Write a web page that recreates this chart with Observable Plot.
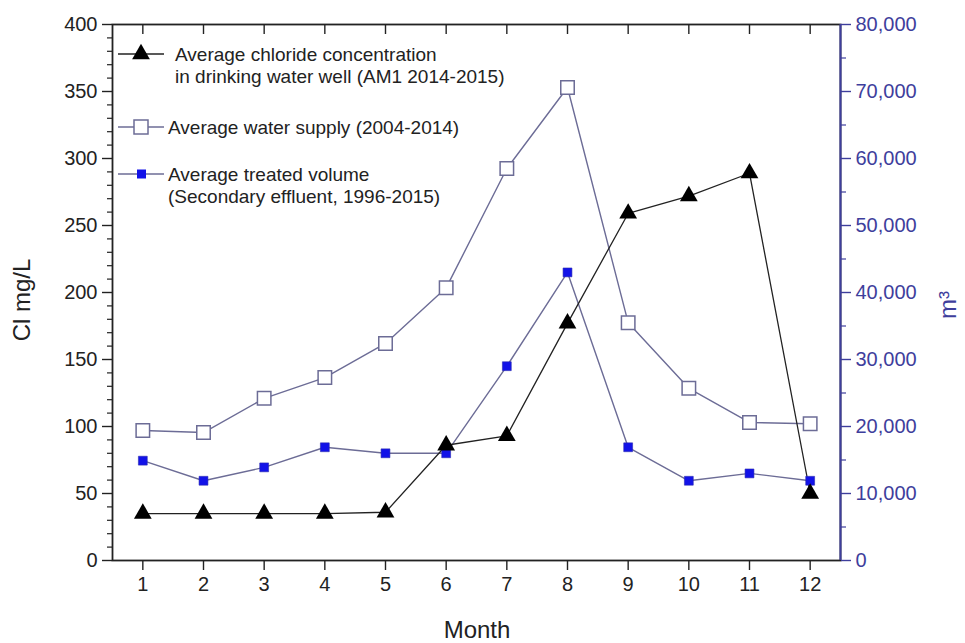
<!DOCTYPE html>
<html><head><meta charset="utf-8">
<script src="https://cdn.jsdelivr.net/npm/d3@7"></script>
<script src="https://cdn.jsdelivr.net/npm/@observablehq/plot@0.6"></script>
<style>
body{margin:0;background:#fff;}
#wrap{position:relative;width:965px;height:643px;font-family:"Liberation Sans",Arial,sans-serif;}
#legend{position:absolute;left:0;top:0;pointer-events:none;}
</style></head><body><div id="wrap"></div>
<script>
// ---- data ----
const months = [1, 2, 3, 4, 5, 6, 7, 8, 9, 10, 11, 12];
const chloride = [35, 35, 35, 35, 36, 86, 93, 177, 259, 272, 289, 50];            // mg/L (left axis)
const waterSupply = [19400, 19100, 24200, 27300, 32400, 40700, 58500, 70600, 35500, 25700, 20600, 20400]; // m3 (right axis)
const treatedVolume = [14900, 11900, 13900, 16900, 16000, 16000, 29000, 43000, 16900, 11900, 13000, 11900]; // m3 (right axis)
const leftTicks = [0, 50, 100, 150, 200, 250, 300, 350, 400];
const leftMinorTicks = [10,20,30,40,60,70,80,90,110,120,130,140,160,170,180,190,210,220,230,240,260,270,280,290,310,320,330,340,360,370,380,390];
const rightTicks = [0, 10000, 20000, 30000, 40000, 50000, 60000, 70000, 80000];
const rightMinorTicks = [5000, 15000, 25000, 35000, 45000, 55000, 65000, 75000];
const leftMax = 400, rightMax = 80000;
const xTitle = "Month", yLeftTitle = "Cl mg/L", yRightTitle = "m³";
const legendItems = [
  {key: "chloride", lines: ["Average chloride concentration", "in drinking water well (AM1 2014-2015)"]},
  {key: "supply", lines: ["Average water supply (2004-2014)"]},
  {key: "treated", lines: ["Average treated volume", "(Secondary effluent, 1996-2015)"]}
];

const ratio = rightMax / leftMax;
const W = 965, H = 643, mL = 112, mR = 125, mT = 24, mB = 83;
const plotH = H - mT - mB;
const purpleGray = "#6c6c96";
const axisPurple = "#3e3e9c";
const blue = "#1212e8";
const font = "Liberation Sans, Arial, sans-serif";

const chlData = months.map((m, i) => ({m, v: chloride[i]}));
const supData = months.map((m, i) => ({m, v: waterSupply[i] / ratio}));
const treData = months.map((m, i) => ({m, v: treatedVolume[i] / ratio}));

const chart = Plot.plot({
  width: W, height: H,
  marginLeft: mL, marginRight: mR, marginTop: mT, marginBottom: mB,
  style: {fontFamily: font, fontSize: "20px", background: "#fff", color: "#222"},
  x: {type: "linear", domain: [0.5, 12.5], axis: null},
  y: {type: "linear", domain: [0, leftMax], axis: null},
  marks: [
    Plot.line(supData, {x: "m", y: "v", stroke: purpleGray, strokeWidth: 1.4}),
    Plot.line(treData, {x: "m", y: "v", stroke: purpleGray, strokeWidth: 1.4}),
    Plot.line(chlData, {x: "m", y: "v", stroke: "#222", strokeWidth: 1.3}),
    Plot.dot(supData, {x: "m", y: "v", symbol: "square", r: 7.6, fill: "#fff", stroke: purpleGray, strokeWidth: 1.5}),
    Plot.dot(treData, {x: "m", y: "v", symbol: "square", r: 5, fill: blue, stroke: "#2a2ab0", strokeWidth: 0.6}),
    Plot.dot(chlData, {x: "m", y: "v", symbol: "triangle", r: 6.6, fill: "#000"}),
    Plot.frame({stroke: "#222", strokeWidth: 1.8}),
    Plot.ruleX([12.5], {stroke: axisPurple, strokeWidth: 2}),
    // left axis
    Plot.axisY(leftTicks, {anchor: "left", tickSize: 10, tickPadding: 5, fontSize: 20, color: "#222", strokeWidth: 1.4, label: null}),
    Plot.axisY(leftMinorTicks, {anchor: "left", tickSize: 5, tickFormat: () => "", label: null, color: "#222", strokeWidth: 1.2}),
    // right axis
    Plot.axisY(rightTicks.map(v => v / ratio), {anchor: "right", tickSize: 10, tickPadding: 5, fontSize: 20, color: axisPurple, strokeWidth: 1.4,
      tickFormat: d => d3.format(",")(Math.round(d * ratio)), label: null}),
    Plot.axisY(rightMinorTicks.map(v => v / ratio), {anchor: "right", tickSize: 5, tickFormat: () => "", label: null, color: axisPurple, strokeWidth: 1.2}),
    // bottom axis
    Plot.axisX(months, {anchor: "bottom", tickSize: 10, tickPadding: 6, fontSize: 20, color: "#222", strokeWidth: 1.4, label: null}),
    // top inward ticks
    Plot.tickX(months, {x: d => d, insetBottom: plotH - 10, stroke: "#222", strokeWidth: 1.4})
  ]
});

const wrap = document.getElementById("wrap");
wrap.appendChild(chart);

// overlay: legend and axis titles
const ns = "http://www.w3.org/2000/svg";
const lg = document.createElementNS(ns, "svg");
lg.setAttribute("id", "legend");
lg.setAttribute("width", W); lg.setAttribute("height", H);
const sel = d3.select(lg);
const rowsY = [54, 127, 174];
const lineGap = 22;
legendItems.forEach((it, i) => {
  const y = rowsY[i];
  const g = sel.append("g");
  const lineColor = it.key === "chloride" ? "#222" : purpleGray;
  g.append("line").attr("x1", 118).attr("x2", 164).attr("y1", y).attr("y2", y).attr("stroke", lineColor).attr("stroke-width", 1.4);
  if (it.key === "chloride") {
    g.append("path").attr("d", d3.symbol(d3.symbolTriangle, Math.PI * 6.6 * 6.6)()).attr("transform", `translate(141,${y})`).attr("fill", "#000");
  } else if (it.key === "supply") {
    g.append("rect").attr("x", 134).attr("y", y - 7).attr("width", 14).attr("height", 14).attr("fill", "#fff").attr("stroke", purpleGray).attr("stroke-width", 1.5);
  } else {
    g.append("rect").attr("x", 137).attr("y", y - 4.5).attr("width", 9).attr("height", 9).attr("fill", blue);
  }
  const tx = it.key === "chloride" ? 175 : 168;
  it.lines.forEach((t, j) => {
    g.append("text").attr("x", tx).attr("y", y + j * lineGap).attr("dy", "0.36em")
      .attr("font-family", font).attr("font-size", 19).attr("fill", "#222").text(t);
  });
});
sel.append("text").attr("x", 477).attr("y", 638).attr("text-anchor", "middle")
  .attr("font-family", font).attr("font-size", 24).attr("fill", "#222").text(xTitle);
sel.append("text").attr("transform", "translate(30,300) rotate(-90)").attr("text-anchor", "middle")
  .attr("font-family", font).attr("font-size", 24).attr("fill", "#222").text(yLeftTitle);
sel.append("text").attr("transform", "translate(956,305) rotate(-90)").attr("text-anchor", "middle")
  .attr("font-family", font).attr("font-size", 24).attr("fill", axisPurple).text(yRightTitle);
wrap.appendChild(lg);
</script></body></html>
